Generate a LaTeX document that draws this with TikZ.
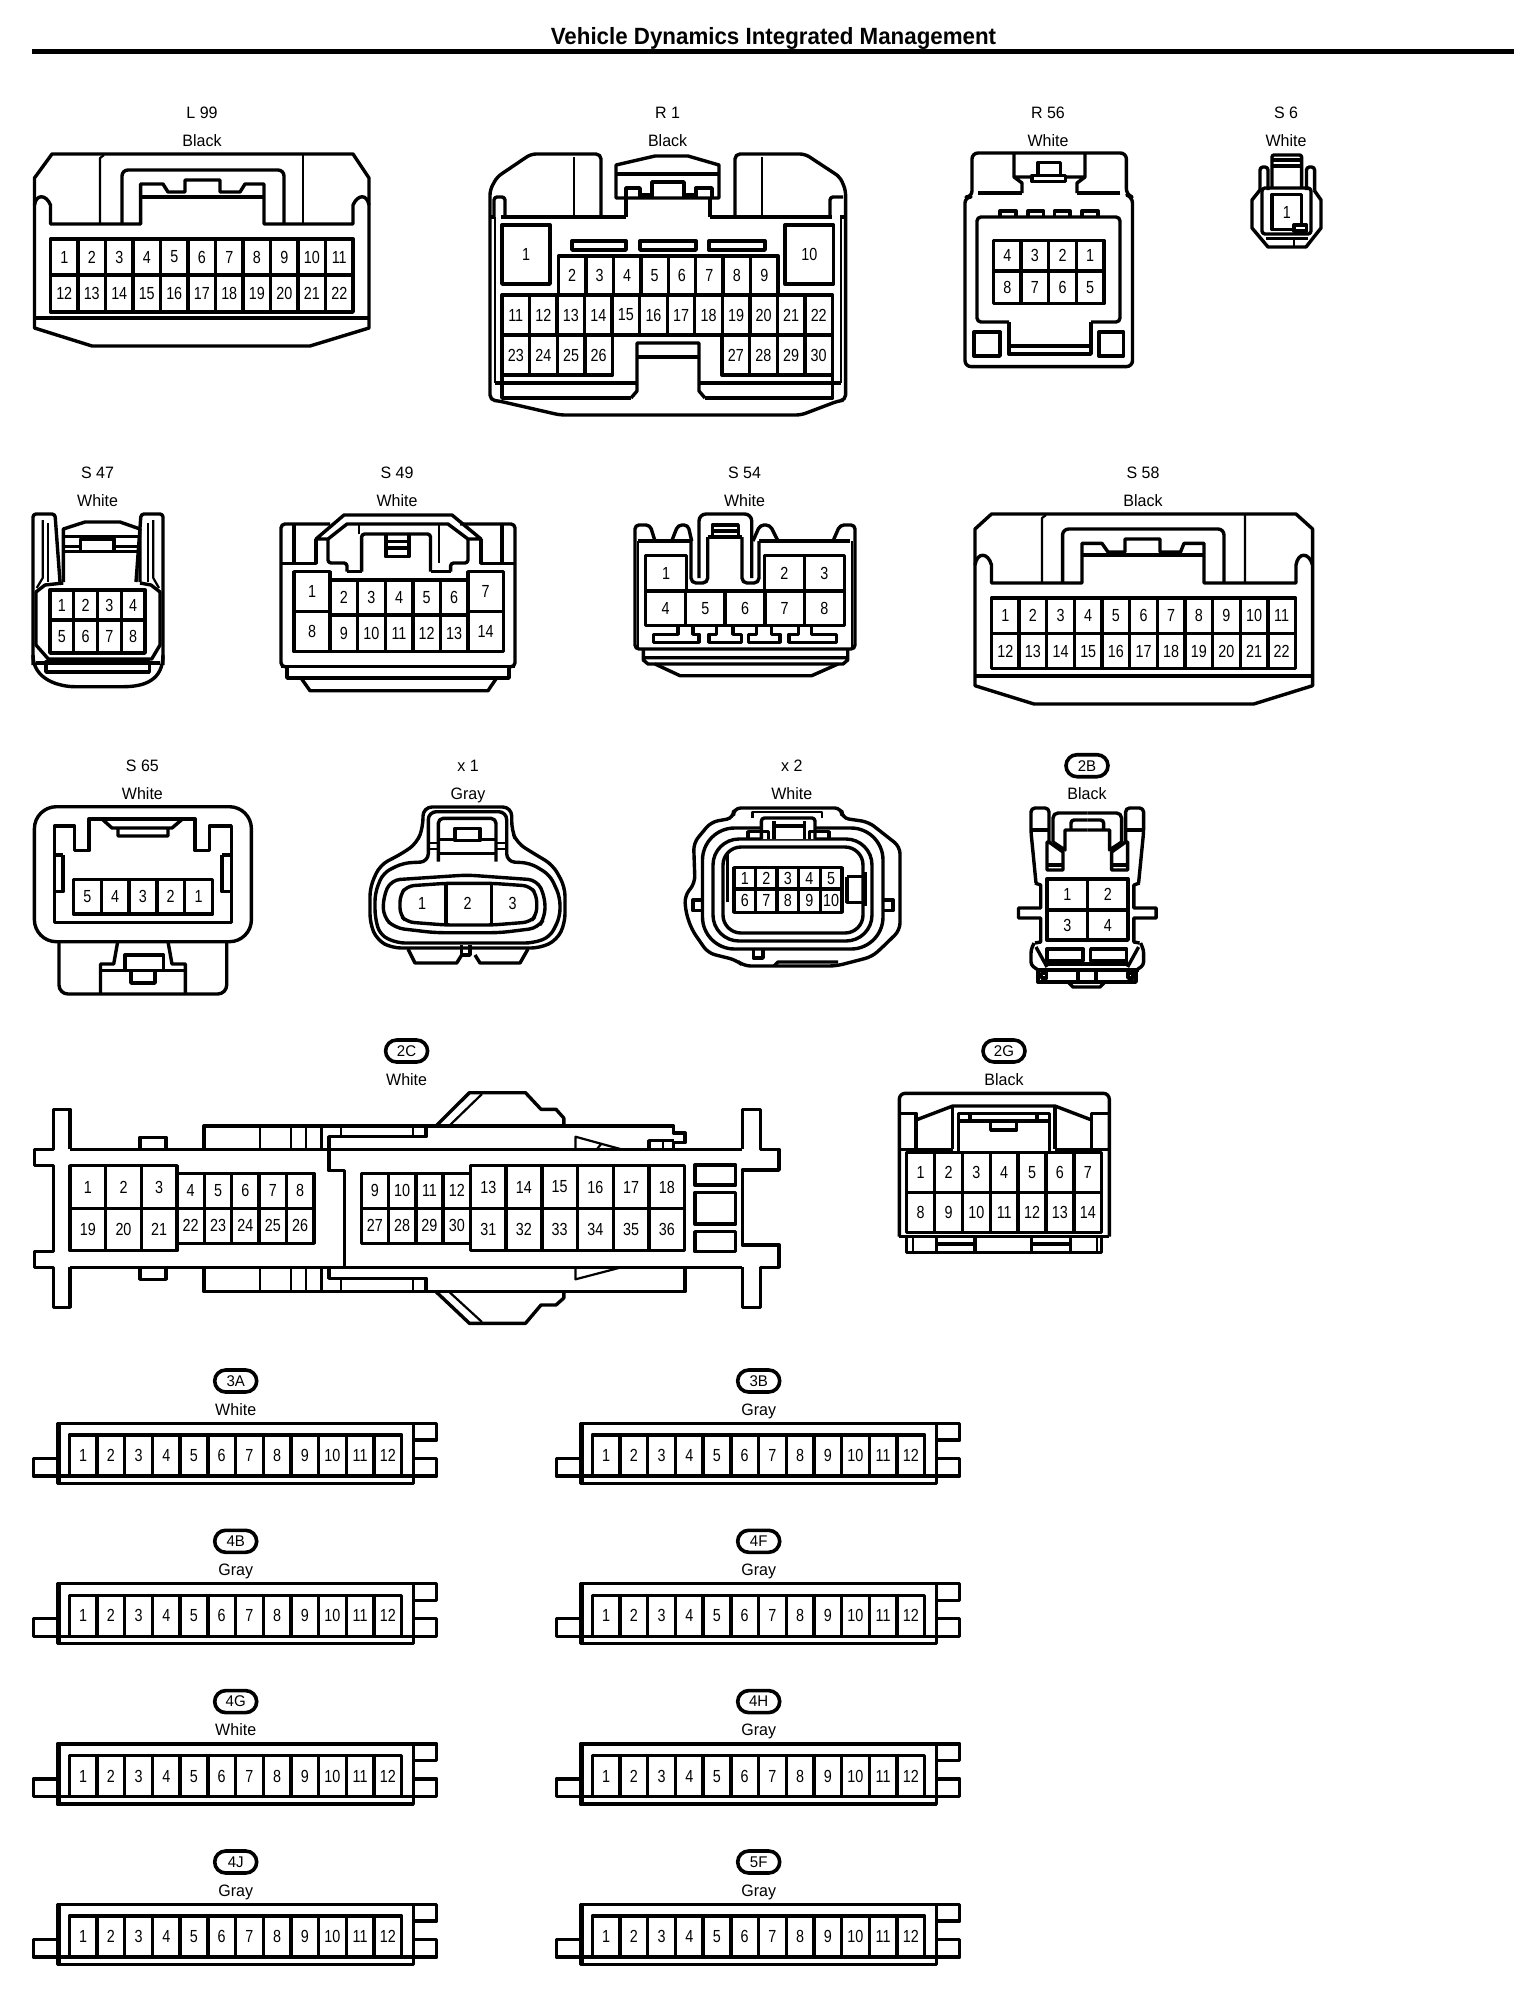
\documentclass[tikz,border=0pt]{standalone}
\usepackage{fontspec}
\setmainfont{Liberation Sans}
\newfontfamily\pinfont[FakeStretch=0.82]{Liberation Sans}
\newfontfamily\labfont[FakeStretch=0.97]{Liberation Sans}
\newfontfamily\titlefont[FakeStretch=0.95]{Liberation Sans Bold}
\tikzset{
  heavy/.style={line width=3.4pt,line join=round,black},
  light/.style={line width=2.2pt,line join=round,black},
  pinnum/.style={font=\pinfont\fontsize{17.5}{18}\selectfont,inner sep=0pt,text=black},
  lab/.style={font=\labfont\fontsize{16.5}{18}\selectfont,inner sep=0pt,text=black,text height=12pt,text depth=0pt},
  badgebox/.style={draw,line width=3.6pt,rounded corners=11pt,minimum width=42pt,minimum height=22pt,inner sep=0pt,font=\labfont\fontsize{15.5}{16}\selectfont},
}
\newcommand{\pinrow}[6]{%
  \foreach \t [count=\n] in {#6} {\xdef\pincount{\n}}
  \pgfmathsetmacro\cw{(#4-#2)/\pincount}
  \pgfmathsetmacro\yc{(#3+#5)/2}
  \draw[heavy] (#2,#3) rectangle (#4,#5);
  \foreach \t [count=\n] in {#6} {
    \pgfmathsetmacro\xl{#2+\cw*(\n-1)}
    \pgfmathsetmacro\xc{\xl+\cw/2}
    \ifnum\n>1 \draw[heavy] (\xl,#3)--(\xl,#5); \fi
    \node[pinnum] (#1n\t) at (\xc,\yc) {\t};
  }
}
\newcommand{\headA}[5]{\node[lab] (#1a) at (#2,#3) {#4}; \node[lab] (#1b) at (#2,#3+28) {#5};}
\newcommand{\headB}[5]{\node[badgebox] (#1a) at (#2,#3) {#4}; \node[lab] (#1b) at (#2,#3+28) {#5};}
\newcommand{\twelve}[5]{%
  \begin{scope}[shift={(#2,#3)}]
    \headB{#1h}{235.7}{1381}{#4}{#5}
    \draw[heavy] (57.3,1423.3) rectangle (413.3,1483.3);
    \draw[light] (59.5,1423.3)--(59.5,1483.3);
    \draw[heavy] (57.3,1476)--(413.3,1476);
    \draw[heavy] (413.3,1423.3)--(436.7,1423.3)--(436.7,1440)--(413.3,1440);
    \draw[heavy] (413.3,1458.3)--(436.7,1458.3)--(436.7,1476)--(413.3,1476);
    \draw[heavy] (57.3,1458.3)--(33.3,1458.3)--(33.3,1476)--(57.3,1476);
    \pinrow{#1p}{69.3}{1435}{401.7}{1476}{1,2,3,4,5,6,7,8,9,10,11,12}
  \end{scope}}
\begin{document}
\begin{tikzpicture}[x=1pt,y=-1pt]
\useasboundingbox (0,0) rectangle (1536,1990);
\fill[white] (0,0) rectangle (1536,1990);
% title
\node[font=\titlefont\fontsize{23.5}{25}\selectfont,inner sep=0pt] (title) at (773.5,38) {Vehicle Dynamics Integrated Management};
\fill[black] (32,49) rectangle (1514,54);

%% L99
\headA{l}{202}{112}{L 99}{Black}
\draw[heavy] (52,154)--(353,154)--(369,178)--(369,328)--(310,346)--(92,346)--(34.5,328)--(34.5,178)--cycle;
\draw[heavy] (34.5,318)--(369,318);
\draw[heavy] (34.5,205)..controls (36,194) and (46,194) .. (50.5,205)--(50.5,224)--(140.6,224)--(140.6,184)--(163,184)--(168,192)--(185,192)--(185,180)--(220,180)--(220,192)--(240,192)--(245,184)--(264,184)--(264,224)--(353,224)--(353,205)..controls (358,194) and (367,194) .. (369,205);
\draw[heavy] (140.6,197)--(264,197);
\draw[heavy,rounded corners=6pt] (122,224)--(122,170)--(284,170)--(284,224);
\draw[light] (100,224)--(100,158)--(104,155);
\draw[light] (303,224)--(303,155);
\pinrow{lp}{50.5}{239}{353}{275}{1,2,3,4,5,6,7,8,9,10,11}
\pinrow{lq}{50.5}{275}{353}{312}{12,13,14,15,16,17,18,19,20,21,22}

%% R1
\headA{ra}{667.6}{112}{R 1}{Black}
\draw[heavy,rounded corners=5pt] (601,217)--(601,154)--(531,154)--(497,177)--(490,190)--(490,400)--(499,401)--(560,415)--(801,415)--(838,401)--(845.6,400)--(845.6,190)--(840,177)--(805,154)--(735,154)--(735,217);
\draw[heavy] (501,217)--(626,217) (710,217)--(832,217);
\draw[heavy] (490,217)--(494,217) (840,217)--(845,217);
\draw[heavy,rounded corners=3pt] (494,217)--(494,197)--(505,197)--(505,217);
\draw[heavy,rounded corners=3pt] (830,217)--(830,197)--(843,197);
\draw[light] (574,157)--(574,217) (762,157)--(762,217);
\draw[heavy] (616,198)--(616,165)--(655,156)--(688,156)--(719,165)--(719,198)--cycle;
\draw[heavy] (616,174)--(719,174);
\draw[heavy] (626,217)--(626,198) (710,217)--(710,198);
\draw[heavy] (626,198)--(626,188)--(640,188)--(640,198) (696,198)--(696,188)--(712,188)--(712,198);
\draw[heavy] (652,198)--(652,182)--(684,182)--(684,198) (640,195)--(652,195) (684,195)--(696,195);
\pinrow{ra1}{502}{225}{550}{284}{1}
\pinrow{ra10}{785}{225}{833.5}{284}{10}
\draw[heavy] (572,241) rectangle (626,250) (640,241) rectangle (696,250) (709,241) rectangle (765,250);
\pinrow{rap}{558.5}{256}{778}{295}{2,3,4,5,6,7,8,9}
\pinrow{raq}{502}{295}{832.5}{335}{11,12,13,14,15,16,17,18,19,20,21,22}
\pinrow{rar}{502}{335}{612.5}{375}{23,24,25,26}
\pinrow{ras}{722}{335}{832.5}{375}{27,28,29,30}
\draw[heavy] (631,398)--(637,391)--(637,343)--(699,343)--(699,391)--(705,398);
\draw[heavy] (637,357)--(699,357);
\draw[heavy] (502,375)--(502,398)--(631,398) (832.5,375)--(832.5,398)--(705,398);
\draw[heavy] (495,383)--(637,383) (699,383)--(841,383);
\draw[light] (495,217)--(495,383) (841,217)--(841,383);

%% R56
\headA{rb}{1048}{112}{R 56}{White}
\draw[heavy,rounded corners=6pt] (972,197)--(972,153)--(1126.4,153)--(1126.4,195)--(1132.5,197)--(1132.5,366.6)--(965,366.6)--(965,197)--cycle;
\draw[heavy] (978,193)--(1022,193) (1077,193)--(1119.5,193);
\draw[heavy] (1014,153)--(1014,177)--(1022,183)--(1022,193) (1085,153)--(1085,177)--(1077,183)--(1077,193) (1014,177)--(1032,177) (1065,177)--(1085,177);
\draw[heavy] (1038,175.5)--(1038,162.5)--(1060.6,162.5)--(1060.6,175.5);
\draw[heavy] (1032,175.5) rectangle (1065.5,181.6);
\draw[heavy] (1000,217)--(1000,211)--(1016,211)--(1016,217) (1028,217)--(1028,211)--(1043.5,211)--(1043.5,217) (1054.5,217)--(1054.5,211)--(1070,211)--(1070,217) (1082,217)--(1082,211)--(1098,211)--(1098,217);
\draw[heavy,rounded corners=4pt] (1009,322)--(977,322)--(977,217)--(1120,217)--(1120,322)--(1091,322);
\draw[heavy] (1009,322)--(1009,354)--(1091,354)--(1091,322) (1009,346)--(1091,346);
\draw[heavy] (974,332) rectangle (1000,356) (1099,332) rectangle (1123.6,356);
\pinrow{rbp}{993.5}{240.5}{1104}{271}{4,3,2,1}
\pinrow{rbq}{993.5}{271}{1104}{303.6}{8,7,6,5}

%% S6
\headA{sa}{1286}{112}{S 6}{White}
\draw[heavy,rounded corners=2pt] (1272,188)--(1272,175)--(1272,155)--(1301.6,155)--(1301.6,188);
\draw[heavy] (1272,160)--(1301.6,160) (1272,166)--(1301.6,166);
\draw[heavy,rounded corners=3pt] (1260,190)--(1260,167)--(1268,167)--(1268,190);
\draw[heavy,rounded corners=3pt] (1306.5,190)--(1306.5,167)--(1314.6,167)--(1314.6,190);
\draw[heavy] (1260,190)--(1252,200)--(1252,228)--(1268,247)--(1306,247)--(1321,228)--(1321,200)--(1314,190);
\draw[heavy,rounded corners=3pt] (1262,188) rectangle (1311,234);
\pinrow{sap}{1272}{194.6}{1301.6}{229.6}{1}
\draw[heavy,fill=white] (1294,225) rectangle (1306.5,231);
\draw[heavy] (1266,238.5)--(1308,238.5);
\draw[light] (1294,238.5)--(1294,247);

%% S47
\headA{sb}{97.6}{472}{S 47}{White}
\draw[heavy,rounded corners=3pt] (33,665)--(33,514)--(55,514)--(60,582);
\draw[heavy,rounded corners=3pt] (163,665)--(163,514)--(141,514)--(136,582);
\draw[heavy] (33,655)..controls (33,680) and (60,686.7)..(75,686.7)--(123,686.7)..controls (145,686.7) and (163,680)..(163,655);
\draw[light] (36.7,588)--(42.7,578)--(42.7,520) (159,588)--(153.3,578)--(153.3,520);
\draw[light] (48,523)--(48,582) (148,523)--(148,582);
\draw[heavy] (63.3,582)--(63.3,529)--(85,522)--(120,522)--(140,529)--(140,582);
\draw[heavy] (63.3,536.7)--(140,536.7);
\draw[heavy] (63.3,546.7)--(140,546.7) (63.3,551.7)--(140,551.7);
\draw[heavy,fill=white] (80.7,539) rectangle (114,551.7);
\draw[heavy] (63.3,583)--(45,585)--(36,592)--(36,645)--(48.3,659)--(151.7,659)--(160,645)--(160,592)--(151,585)--(140,583);
\pinrow{sbp}{50}{590}{145}{620}{1,2,3,4}
\pinrow{sbq}{50}{620}{145}{653}{5,6,7,8}
\draw[heavy] (36,663)--(160,663);
\draw[heavy] (46,662) rectangle (149.3,672);

%% S49
\headA{sc}{397}{472}{S 49}{White}
\draw[heavy,rounded corners=4pt] (287,666.7)--(281,666.7)--(281,524)--(330,524);
\draw[heavy,rounded corners=4pt] (509,666.7)--(515,666.7)--(515,524)--(460,524);
\draw[heavy] (281,666.7)--(515,666.7) (287,666.7)--(287,678)--(509,678)--(509,666.7);
\draw[heavy] (301,678)--(310,690.7)--(488,690.7)--(496.6,678);
\draw[heavy] (316,539)--(344,515)--(452,515)--(481,539)--(468,539)--(448,524)--(347,524)--(328,539)--cycle;
\draw[heavy] (294,524)--(294,563) (502,524)--(502,563);
\draw[heavy] (281,563.3)--(316,563.3)--(316,539) (515,563.3)--(481,563.3)--(481,539);
\draw[heavy,rounded corners=3pt] (328,539)--(328,563)--(347,563)--(347,571.7) (468,539)--(468,563)--(450.6,563)--(450.6,571.7);
\draw[heavy] (347,571.7)--(361.6,571.7) (430.5,571.7)--(450.6,571.7);
\draw[heavy,rounded corners=3pt] (361.6,571.7)--(361.6,534)--(430.5,534)--(430.5,571.7);
\draw[light] (358.8,524)--(358.8,534) (439,524)--(439,563);
\draw[heavy] (385.8,534)--(385.8,556.7)--(409,556.7)--(409,534) (385.8,541.7)--(409,541.7) (385.8,548)--(409,548);
\pinrow{sc1}{294}{571.7}{330}{611.7}{1}
\pinrow{sc8}{294}{611.7}{330}{651.7}{8}
\pinrow{sc7}{468}{571.7}{503.4}{611.7}{7}
\pinrow{sc14}{468}{611.7}{503.4}{651.7}{14}
\pinrow{scp}{330}{580}{468}{615}{2,3,4,5,6}
\pinrow{scq}{330}{615}{468}{651.7}{9,10,11,12,13}

%% S54
\headA{sd}{744.5}{472}{S 54}{White}
\draw[heavy,rounded corners=4pt] (635,540)--(635,649)--(855,649)--(855,540);
\draw[heavy] (637.7,541)--(691,541) (759,541)--(850,541);
\draw[light] (637.7,541)--(637.7,647) (852,541)--(852,647);
\draw[heavy,rounded corners=4pt] (635,540)--(635,525)--(650,525)--(655,541) (671.7,541)--(678,525)--(688,525)--(691.7,541);
\draw[heavy,rounded corners=4pt] (753,541)--(760,525)--(770,525)--(778,541) (833,541)--(840,525)--(855,525)--(855,540);
\draw[heavy,rounded corners=5pt] (691,541)--(691,583)--(707.7,583)--(707.7,537);
\draw[heavy,rounded corners=5pt] (742,537)--(742,583)--(759,583)--(759,541);
\draw[heavy,rounded corners=7pt] (699,578)--(699,514)--(751.7,514)--(751.7,578);
\draw[heavy] (707.7,537)--(742,537);
\draw[heavy] (712.3,537)--(712.3,525)--(738.3,525)--(738.3,537) (712.3,531)--(738.3,531);
\pinrow{sdr}{645.7}{555.7}{686.7}{591}{1}
\pinrow{sds}{764.3}{555.7}{844.3}{591}{2,3}
\pinrow{sdp}{645.7}{591}{844.3}{625.7}{4,5,6,7,8}
\draw[heavy] (678,627)--(678,634.3)--(653.3,634.3)--(653.3,642.3)--(699,642.3)--(699,634.3)--(693,634.3)--(693,627);
\draw[heavy] (716.7,627)--(716.7,634.3)--(709,634.3)--(709,642.3)--(741.7,642.3)--(741.7,634.3)--(733,634.3)--(733,627);
\draw[heavy] (756.7,627)--(756.7,634.3)--(748.3,634.3)--(748.3,642.3)--(780,642.3)--(780,634.3)--(771.7,634.3)--(771.7,627);
\draw[heavy] (798.3,627)--(798.3,634.3)--(789,634.3)--(789,642.3)--(836.7,642.3)--(836.7,634.3)--(811.7,634.3)--(811.7,627);
\draw[heavy] (643.3,649)--(643.3,660)--(648,664)--(843,664)--(847.7,660)--(847.7,649) (643.3,657.7)--(847.7,657.7);
\draw[heavy] (655,664)--(680,675.7)--(811.7,675.7)--(838,664);

%% S58
\headA{se}{1143}{472}{S 58}{Black}
\draw[heavy] (991.5,514)--(1296,514)--(1312.6,529)--(1312.6,685.7)--(1253.7,704)--(1034,704)--(975,685.7)--(975,529)--cycle;
\draw[heavy] (975,676)--(1312.6,676);
\draw[heavy] (975,565)..controls (977,552) and (988,552)..(991.5,565)--(991.5,583)--(1082,583)--(1082,543.4)--(1102,543.4)--(1108,552)--(1125,552)--(1125,539)--(1160,539)--(1160,552)--(1180.5,552)--(1184,543.4)--(1204,543.4)--(1204,583)--(1296,583)--(1296,565)..controls (1298,552) and (1309,552)..(1312.6,565);
\draw[heavy] (1082,555)--(1204,555);
\draw[heavy,rounded corners=6pt] (1062.6,583)--(1062.6,529)--(1224,529)--(1224,583);
\draw[light] (1042,583)--(1042,518)--(1046,515) (1245,583)--(1245,515);
\pinrow{sep}{991.5}{598}{1295.5}{633.6}{1,2,3,4,5,6,7,8,9,10,11}
\pinrow{seq}{991.5}{633.6}{1295.5}{668.6}{12,13,14,15,16,17,18,19,20,21,22}

%% S65
\headA{sf}{142.4}{765.7}{S 65}{White}
\draw[heavy,rounded corners=22pt] (34.4,806.7) rectangle (251.4,941.7);
\draw[heavy] (54.5,922.7)--(54.5,826)--(74.6,826)--(74.6,850.7)--(89,850.7)--(89,819)--(195,819)--(195,850.7)--(209.5,850.7)--(209.5,826)--(231.3,826)--(231.3,922.7)--cycle;
\draw[heavy] (102,819)--(112,828)--(172,828)--(182.5,819) (118,828)--(118,836)--(168,836)--(168,828);
\draw[heavy] (63,855)--(55.7,855) (63,855)--(63,891.7)--(55.7,891.7) (222,855)--(231,855) (222,855)--(222,891.7)--(231,891.7);
\pinrow{sfp}{73.5}{879.3}{212.4}{914}{5,4,3,2,1}
\draw[heavy,rounded corners=9pt] (59,941.7)--(59,994)--(226.7,994)--(226.7,941.7);
\draw[heavy] (117.7,941.7)--(113.7,964)--(100.5,964)--(100.5,994) (168,941.7)--(172,964)--(185.4,964)--(185.4,994);
\draw[heavy] (100.5,970.7)--(185.4,970.7);
\draw[heavy] (125,970.7)--(125,955)--(163.6,955)--(163.6,970.7) (131,970.7)--(131,983)--(155,983)--(155,970.7);

%% x1
\headA{xa}{468}{765.7}{x 1}{Gray}
\draw[heavy,rounded corners=9pt] (423,827)--(423,807)--(511.7,807)--(511.7,830)--(517,843)--(533,853)--(553,865)--(565,887)--(565,923)--(557,940)--(540,948)--(392,948)--(377,940)--(370,923)--(370,887)--(380,865)--(403,853)--(417,843)--cycle;
\draw[heavy,rounded corners=8pt] (428.3,861.7)--(428.3,811.7)--(506.7,811.7)--(506.7,861.7)--(530,863)--(550,875)--(560,897)--(560,917)--(550,937)--(533,943)--(397,943)--(380,935)--(375,917)--(375,893)--(383,873)--(403,863)--cycle;
\draw[heavy,rounded corners=5pt] (438.3,861.7)--(438.3,818.3)--(496,818.3)--(496,861.7);
\draw[light] (428.3,842.7)--(438.3,842.7) (428.3,849.3)--(438.3,849.3) (496,842.7)--(506.7,842.7) (496,849.3)--(506.7,849.3);
\draw[heavy] (438.3,839.3)--(455,839.3) (480,839.3)--(496,839.3) (438.3,853.3)--(496,853.3);
\draw[heavy] (455,828.3) rectangle (480,840.7);
\draw[heavy,rounded corners=9pt] (391,880)--(467,875)--(537,880)--(545,897)--(545,917)--(538,928)--(500,932.7)--(435,932.7)--(395,928)--(383.3,917)--(383.3,897)--cycle;
\draw[heavy,rounded corners=7pt] (407,886)--(446,883.3)--(492,883.3)--(530,886)--(536.7,895)--(536.7,915)--(530,922)--(492,925)--(446,925)--(407,922)--(400,915)--(400,895)--cycle;
\draw[heavy] (446,883.3)--(446,925) (491.7,883.3)--(491.7,925);
\node[pinnum] (xan1) at (422,903) {1};
\node[pinnum] (xan2) at (467.7,903) {2};
\node[pinnum] (xan3) at (512.7,903) {3};
\draw[heavy] (408,949)--(415,963)--(456.7,963)--(461.7,955) (475,955)--(480,963)--(520,963)--(528,949);
\draw[heavy] (461.7,945)--(461.7,955)--(470,955)--(470,945);

%% x2
\headA{xb}{791.8}{765.7}{x 2}{White}
\draw[heavy,rounded corners=7pt] (733.6,818)--(733.6,808)--(841.8,808)--(841.8,818)--(868.6,822)--(900,846.7)--(900,930)--(883,946.7)--(872,956.7)--(836,966)--(743.6,966)--(736,960)--(708,953)--(692,930)--(686,913)--(684.6,896)--(695,883)--(693.6,843)--(711,822)--cycle;
\draw[heavy,rounded corners=32pt] (702.5,828) rectangle (883,949);
\draw[heavy,rounded corners=26pt] (713,839) rectangle (872,941);
\draw[heavy,rounded corners=18pt] (723,847) rectangle (863,933);
\draw[light] (727.5,852)--(727.5,902);
\draw[heavy] (702.5,900)--(693,900)--(693,910.7)--(702.5,910.7) (883,900)--(893,900)--(893,910.7)--(883,910.7);
\draw[heavy] (753.6,949)--(753.6,958)--(763,958)--(763,949);
\pinrow{xbp}{734}{867.7}{841.8}{889}{1,2,3,4,5}
\pinrow{xbq}{734}{889}{841.8}{912.3}{6,7,8,9,10}
\draw[heavy] (847,876.7)--(865.7,876.7) (847,876.7)--(847,902.3)--(865.7,902.3) (865.7,872)--(865.7,906);
\draw[heavy,fill=white,rounded corners=3pt] (761.4,839)--(761.4,818)--(815,818)--(815,839);
\draw[heavy] (774,821)--(774,839) (804.3,821)--(804.3,839) (774,826)--(804.3,826);
\draw[heavy] (748,839)--(748,831.7)--(768.6,831.7)--(768.6,839) (809.6,839)--(809.6,831.7)--(829,831.7)--(829,839);
\draw[light] (752.5,818)--(752.5,812)--(822,812)--(822,818);
\draw[heavy] (774,966)--(778,962)--(838,962);

%% 2B
\headB{ba}{1087}{765.7}{2B}{Black}
\foreach \mir/\cc in {1/0,-1/2174.6}{
\begin{scope}[shift={(\cc,0)},xscale=\mir]
\draw[heavy,rounded corners=4pt] (1036,883)--(1031,832)--(1031,808)--(1049,808)--(1049,842);
\draw[heavy] (1049,842)--(1063,852)--(1063,870)--(1047,870)--(1047,842)--(1049,842);
\draw[heavy] (1047,865)--(1063,865);
\draw[heavy] (1031,830)--(1049,830);
\draw[heavy,rounded corners=5pt] (1053,842)--(1053,813)--(1087.3,813);
\draw[heavy] (1053,842)--(1065,850)--(1065,830)--(1087.3,830);
\draw[heavy,rounded corners=3pt] (1071,830)--(1071,820)--(1087.3,820);
\draw[heavy] (1035,883)--(1040.7,885)--(1040.7,908)--(1018.5,908)--(1018.5,918)--(1040.7,918)--(1040.7,942)--(1035,943);
\draw[heavy,rounded corners=3pt] (1034,943)--(1031,950)--(1031,965)--(1038,970);
\draw[heavy] (1036,947)--(1047,967);
\draw[heavy] (1041.7,973)--(1041.7,978)--(1046.7,978)--(1046.7,973)--cycle;
\end{scope}}
\pinrow{bap}{1047}{879}{1128}{910}{1,2}
\pinrow{baq}{1047}{910}{1128}{940}{3,4}
\draw[heavy] (1047,949) rectangle (1083,961) (1090.7,949) rectangle (1126.7,961);
\draw[heavy] (1047,964)--(1128,964) (1036,970)--(1139,970);
\draw[heavy] (1038,970)--(1038,982)--(1136,982)--(1136,970);
\draw[heavy] (1078,970)--(1078,982) (1096,970)--(1096,982);
\draw[heavy] (1068,982)--(1073,987)--(1100,987)--(1105,982);

%% 2C
\headB{ca}{406.6}{1051}{2C}{White}
\draw[heavy] (70,1149.3)--(70,1109.3)--(53.6,1109.3)--(53.6,1149.3)--(34.7,1149.3)--(34.7,1165.3)--(53.6,1165.3)--(53.6,1251.7)--(34.7,1251.7)--(34.7,1267.3)--(53.6,1267.3)--(53.6,1307.3)--(70,1307.3)--(70,1267.3);
\draw[heavy] (70,1149.3)--(742.3,1149.3) (70,1267.3)--(742.3,1267.3);
\draw[heavy] (742.3,1149.3)--(742.3,1109.3)--(760.2,1109.3)--(760.2,1149.3)--(779,1149.3)--(779,1170)--(742.3,1170)--(742.3,1245)--(779,1245)--(779,1267.3)--(760.2,1267.3)--(760.2,1307.3)--(742.3,1307.3)--(742.3,1267.3);
\draw[heavy] (426,1126)--(426,1136.7)--(329,1136.7)--(329,1170.7)--(344.4,1170.7)--(344.4,1267.3);
\draw[heavy] (204,1149.3)--(204,1126)--(673.5,1126)--(673.5,1133)--(685,1133)--(685,1142.7)--(673.5,1142.7)--(673.5,1149.3);
\draw[light] (260,1126)--(260,1149) (291,1126)--(291,1149) (306,1126)--(306,1149) (321.4,1126)--(321.4,1149) (341,1126)--(341,1136.7) (413,1126)--(413,1136.7);
\draw[heavy] (140,1149.3)--(140,1137.3)--(166,1137.3)--(166,1149.3) (140,1267.3)--(140,1279.3)--(166,1279.3)--(166,1267.3);
\draw[heavy] (436,1126)--(469.4,1092.7)--(525.5,1092.7)--(541,1109.3)--(556,1109.3)--(563.8,1118)--(563.8,1126);
\draw[light] (449,1126)--(482,1094);
\draw[light] (575.5,1149.3)--(575.5,1136.7)--(621.4,1149.3) (597,1149)--(602,1143);
\draw[heavy] (649,1149.3)--(649,1140.7)--(673.5,1140.7);
\draw[light] (663,1140.7)--(663,1149.3);
\draw[heavy] (204,1267.3)--(204,1291.7)--(685,1291.7)--(685,1267.3);
\draw[heavy] (329,1267.3)--(329,1278.3)--(426,1278.3)--(426,1291.7);
\draw[light] (260,1267)--(260,1291.7) (291,1267)--(291,1291.7) (306,1267)--(306,1291.7) (321.4,1267)--(321.4,1291.7) (341,1278)--(341,1291.7) (413,1278)--(413,1291.7);
\draw[heavy] (436,1291.7)--(469.4,1323.3)--(525.5,1323.3)--(541,1305)--(556,1305)--(563.8,1298)--(563.8,1291.7);
\draw[light] (449,1291.7)--(482,1322);
\draw[light] (575.5,1267.3)--(575.5,1279.3)--(621.4,1267.3);
\pinrow{cp}{70}{1165.7}{177}{1208.3}{1,2,3}
\pinrow{cq}{70}{1208.3}{177}{1250.7}{19,20,21}
\pinrow{cr}{177}{1173.3}{313.8}{1208.3}{4,5,6,7,8}
\pinrow{cs}{177}{1208.3}{313.8}{1243.3}{22,23,24,25,26}
\pinrow{ct}{361.2}{1173.3}{470.4}{1208.3}{9,10,11,12}
\pinrow{cu}{361.2}{1208.3}{470.4}{1243.3}{27,28,29,30}
\pinrow{cv}{470.4}{1165.7}{684.7}{1208.3}{13,14,15,16,17,18}
\pinrow{cw}{470.4}{1208.3}{684.7}{1250.7}{31,32,33,34,35,36}
\draw[heavy] (695,1165) rectangle (735.7,1185) (695,1192.3) rectangle (735.7,1224) (695,1231.7) rectangle (735.7,1251.7);

%% 2G
\headB{ga}{1004}{1051}{2G}{Black}
\draw[heavy,rounded corners=6pt] (899.3,1236.7)--(899.3,1093.3)--(1109.3,1093.3)--(1109.3,1236.7);
\draw[heavy] (899.3,1236.7)--(1109.3,1236.7);
\draw[heavy] (899,1149.3)--(953,1149.3) (1055,1149.3)--(1109,1149.3);
\draw[heavy] (916,1149.3)--(916,1113.3)--(899,1113.3) (1091.7,1149.3)--(1091.7,1113.3)--(1109,1113.3);
\draw[heavy] (916,1120)--(952.7,1106)--(1055,1106)--(1091.7,1120);
\draw[heavy] (952.7,1106)--(952.7,1149.3) (1055,1106)--(1055,1149.3);
\draw[heavy] (958.3,1152)--(958.3,1113.3)--(1049.3,1113.3)--(1049.3,1152);
\draw[heavy] (958.3,1121)--(1049.3,1121) (970,1113)--(970,1121) (1037,1113)--(1037,1121);
\draw[heavy] (990.7,1121)--(990.7,1130)--(1016.7,1130)--(1016.7,1121);
\pinrow{gp}{906.7}{1152.7}{1101.7}{1192.3}{1,2,3,4,5,6,7}
\pinrow{gq}{906.7}{1192.3}{1101.7}{1232.7}{8,9,10,11,12,13,14}
\draw[heavy] (906.7,1236.7)--(906.7,1252.7)--(1101.7,1252.7)--(1101.7,1236.7);
\draw[heavy] (936.7,1236.7)--(936.7,1252.7) (975,1236.7)--(975,1252.7) (1031.7,1236.7)--(1031.7,1252.7) (1070.7,1236.7)--(1070.7,1252.7);
\draw[heavy] (936.7,1244)--(975,1244) (1031.7,1244)--(1070.7,1244);
\draw[light] (913,1236.7)--(913,1252.7) (1096.7,1236.7)--(1096.7,1252.7);

%% twelve-way connectors
\twelve{ta}{0}{0}{3A}{White}
\twelve{tb}{523}{0}{3B}{Gray}
\twelve{tc}{0}{160.3}{4B}{Gray}
\twelve{td}{523}{160.3}{4F}{Gray}
\twelve{te}{0}{320.6}{4G}{White}
\twelve{tf}{523}{320.6}{4H}{Gray}
\twelve{tg}{0}{481}{4J}{Gray}
\twelve{th}{523}{481}{5F}{Gray}
\end{tikzpicture}
\end{document}
